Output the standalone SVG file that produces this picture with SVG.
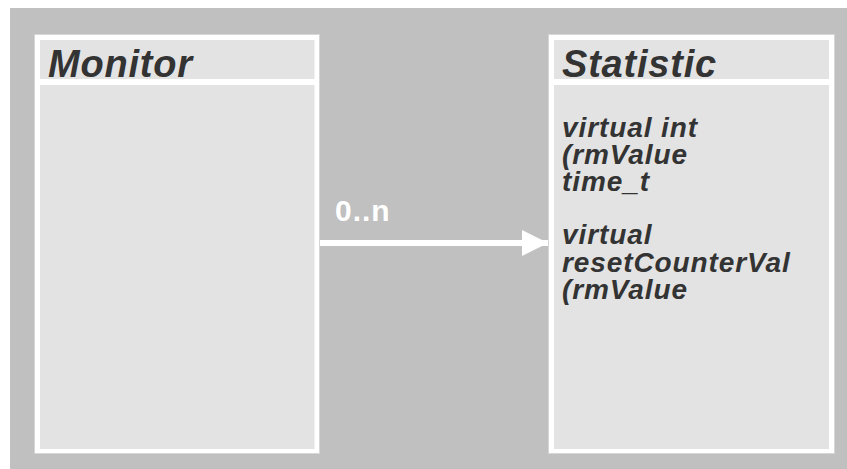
<svg xmlns="http://www.w3.org/2000/svg" width="847" height="469" viewBox="0 0 847 469">
<style>
.bg{fill:#c0c0c0}
.frame{fill:#ffffff;stroke:#d6d6d6;stroke-width:1}
.fill{fill:#e3e3e3}
.title{font-family:"Liberation Sans",Arial,sans-serif;font-weight:bold;font-style:italic;font-size:38px;letter-spacing:0.8px;fill:#333333}
.body{font-family:"Liberation Sans",Arial,sans-serif;font-weight:bold;font-style:italic;font-size:28px;letter-spacing:0.9px;fill:#333333}
.lbl{font-family:"Liberation Sans",Arial,sans-serif;font-weight:bold;font-size:30px;letter-spacing:1px;fill:#ffffff}
</style>
<defs>
<marker id="arrow" markerUnits="userSpaceOnUse" markerWidth="26" markerHeight="26" refX="26" refY="13" orient="auto">
<path d="M0,0 L26,13 L0,26 Z" fill="#ffffff"/>
</marker>
</defs>
<rect class="bg" x="10" y="8" width="837" height="461"/>
<g id="monitor">
<rect class="frame" x="34.5" y="34.5" width="285" height="419"/>
<rect class="fill" x="40" y="40" width="274.5" height="39"/>
<rect class="fill" x="40" y="85" width="274.5" height="364"/>
<text class="title" x="48" y="77">Monitor</text>
</g>
<g id="statistic">
<rect class="frame" x="548.5" y="34.5" width="286" height="419"/>
<rect class="fill" x="554" y="40" width="275" height="39"/>
<rect class="fill" x="554" y="85" width="275" height="364"/>
<text class="title" x="562" y="77">Statistic</text>
<text class="body" x="562" y="137">virtual int</text>
<text class="body" x="562" y="164">(rmValue</text>
<text class="body" x="562" y="191">time_t</text>
<text class="body" x="562" y="244">virtual</text>
<text class="body" x="562" y="271.5">resetCounterVal</text>
<text class="body" x="562" y="298.5">(rmValue</text>
</g>
<g id="connectors">
<line x1="320" y1="243" x2="548" y2="243" stroke="#ffffff" stroke-width="6" marker-end="url(#arrow)"/>
<text class="lbl" x="335" y="221">0..n</text>
</g>
</svg>
